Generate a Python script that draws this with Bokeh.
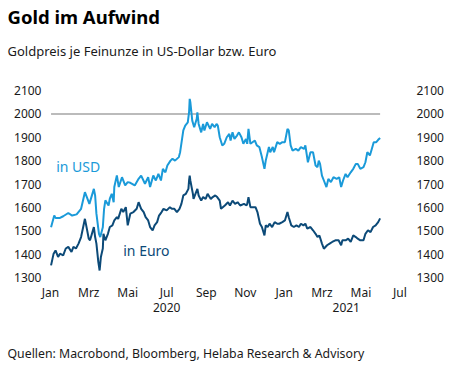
import pandas as pd
from bokeh.plotting import figure
from bokeh.models import (FixedTicker, CustomJSTickFormatter, LinearAxis, Label, Range1d, Title)
from bokeh.embed import file_html
from bokeh.resources import INLINE

# ---------------- data ----------------
usd_dates = [
    "2020-01-02", "2020-01-07", "2020-01-09", "2020-01-16", "2020-01-21", "2020-01-29",
    "2020-02-04", "2020-02-11", "2020-02-18", "2020-02-24", "2020-02-27", "2020-03-02",
    "2020-03-09", "2020-03-11", "2020-03-13", "2020-03-17", "2020-03-19", "2020-03-23",
    "2020-03-25", "2020-03-27", "2020-04-01", "2020-04-03", "2020-04-06", "2020-04-09",
    "2020-04-10", "2020-04-14", "2020-04-17", "2020-04-22", "2020-04-27", "2020-05-01",
    "2020-05-05", "2020-05-12", "2020-05-18", "2020-05-22", "2020-05-28", "2020-06-02",
    "2020-06-05", "2020-06-10", "2020-06-14", "2020-06-18", "2020-06-22", "2020-06-25",
    "2020-06-29", "2020-07-02", "2020-07-07", "2020-07-10", "2020-07-14", "2020-07-20",
    "2020-07-22", "2020-07-27", "2020-07-30", "2020-08-03", "2020-08-05", "2020-08-06",
    "2020-08-07", "2020-08-10", "2020-08-13", "2020-08-17", "2020-08-18", "2020-08-20",
    "2020-08-24", "2020-08-27", "2020-08-29", "2020-09-02", "2020-09-07", "2020-09-10",
    "2020-09-14", "2020-09-17", "2020-09-19", "2020-09-22", "2020-09-26", "2020-09-29",
    "2020-10-03", "2020-10-07", "2020-10-09", "2020-10-12", "2020-10-15", "2020-10-19",
    "2020-10-22", "2020-10-26", "2020-10-29", "2020-11-02", "2020-11-04", "2020-11-06",
    "2020-11-09", "2020-11-16", "2020-11-19", "2020-11-23", "2020-11-27", "2020-12-01",
    "2020-12-03", "2020-12-08", "2020-12-10", "2020-12-14", "2020-12-16", "2020-12-21",
    "2020-12-25", "2020-12-29", "2021-01-02", "2021-01-06", "2021-01-08", "2021-01-11",
    "2021-01-14", "2021-01-19", "2021-01-23", "2021-01-27", "2021-02-01", "2021-02-03",
    "2021-02-07", "2021-02-11", "2021-02-15", "2021-02-19", "2021-02-22", "2021-02-24",
    "2021-02-26", "2021-03-01", "2021-03-04", "2021-03-08", "2021-03-11", "2021-03-15",
    "2021-03-19", "2021-03-24", "2021-03-28", "2021-03-31", "2021-04-03", "2021-04-07",
    "2021-04-10", "2021-04-15", "2021-04-19", "2021-04-23", "2021-04-26", "2021-04-30",
    "2021-05-05", "2021-05-08", "2021-05-11", "2021-05-15", "2021-05-18", "2021-05-21",
    "2021-05-25", "2021-05-28", "2021-05-31",
]
usd_values = [
    1515, 1565, 1555, 1555, 1562, 1576,
    1565, 1570, 1594, 1665, 1644, 1615,
    1679, 1650, 1573, 1487, 1473, 1515,
    1594, 1630, 1608, 1637, 1658, 1622,
    1687, 1737, 1687, 1729, 1694, 1708,
    1705, 1694, 1722, 1736, 1701, 1729,
    1687, 1736, 1715, 1743, 1715, 1765,
    1750, 1779, 1800, 1808, 1800, 1815,
    1836, 1929, 1950, 1964, 2007, 2064,
    2050, 1971, 1943, 1979, 2007, 1957,
    1921, 1957, 1929, 1964, 1936, 1957,
    1943, 1957, 1950, 1900, 1865, 1872,
    1900, 1914, 1886, 1921, 1893, 1907,
    1921, 1900, 1872, 1893, 1872, 1936,
    1872, 1886, 1865, 1858, 1815, 1765,
    1800, 1858, 1836, 1858, 1836, 1879,
    1872, 1879, 1879, 1936, 1929, 1865,
    1843, 1850, 1843, 1858, 1850, 1865,
    1793, 1836, 1836, 1779, 1772, 1800,
    1786, 1736, 1715, 1687, 1722, 1708,
    1729, 1722, 1729, 1687, 1715, 1743,
    1729, 1750, 1765, 1786, 1786, 1765,
    1772, 1793, 1836, 1822, 1850, 1879,
    1879, 1889, 1897,
]

eur_dates = [
    "2020-01-02", "2020-01-06", "2020-01-09", "2020-01-13", "2020-01-16", "2020-01-21",
    "2020-01-25", "2020-01-29", "2020-02-03", "2020-02-06", "2020-02-10", "2020-02-14",
    "2020-02-18", "2020-02-24", "2020-02-27", "2020-03-01", "2020-03-03", "2020-03-06",
    "2020-03-09", "2020-03-11", "2020-03-13", "2020-03-16", "2020-03-18", "2020-03-20",
    "2020-03-23", "2020-03-24", "2020-03-27", "2020-03-31", "2020-04-03", "2020-04-07",
    "2020-04-10", "2020-04-14", "2020-04-16", "2020-04-21", "2020-04-24", "2020-04-28",
    "2020-05-01", "2020-05-05", "2020-05-10", "2020-05-15", "2020-05-18", "2020-05-22",
    "2020-05-26", "2020-05-29", "2020-06-02", "2020-06-05", "2020-06-09", "2020-06-12",
    "2020-06-16", "2020-06-19", "2020-06-23", "2020-06-26", "2020-07-01", "2020-07-06",
    "2020-07-09", "2020-07-13", "2020-07-17", "2020-07-21", "2020-07-24", "2020-07-27",
    "2020-07-31", "2020-08-04", "2020-08-05", "2020-08-06", "2020-08-07", "2020-08-11",
    "2020-08-12", "2020-08-18", "2020-08-20", "2020-08-24", "2020-08-27", "2020-08-31",
    "2020-09-03", "2020-09-08", "2020-09-11", "2020-09-15", "2020-09-18", "2020-09-22",
    "2020-09-24", "2020-09-30", "2020-10-05", "2020-10-08", "2020-10-12", "2020-10-16",
    "2020-10-20", "2020-10-24", "2020-10-30", "2020-11-03", "2020-11-04", "2020-11-06",
    "2020-11-09", "2020-11-17", "2020-11-20", "2020-11-24", "2020-11-27", "2020-12-01",
    "2020-12-03", "2020-12-06", "2020-12-09", "2020-12-13", "2020-12-17", "2020-12-21",
    "2020-12-24", "2020-12-29", "2021-01-02", "2021-01-06", "2021-01-08", "2021-01-12",
    "2021-01-16", "2021-01-20", "2021-01-24", "2021-01-27", "2021-01-31", "2021-02-03",
    "2021-02-06", "2021-02-11", "2021-02-15", "2021-02-19", "2021-02-22", "2021-02-25",
    "2021-03-01", "2021-03-04", "2021-03-09", "2021-03-13", "2021-03-17", "2021-03-22",
    "2021-03-27", "2021-03-31", "2021-04-02", "2021-04-07", "2021-04-11", "2021-04-15",
    "2021-04-19", "2021-04-23", "2021-04-26", "2021-04-30", "2021-05-05", "2021-05-08",
    "2021-05-12", "2021-05-16", "2021-05-20", "2021-05-24", "2021-05-28", "2021-05-31",
]
eur_values = [
    1352, 1402, 1416, 1388, 1402, 1395,
    1424, 1431, 1409, 1431, 1424, 1445,
    1473, 1551, 1509, 1466, 1459, 1487,
    1516, 1473, 1445, 1366, 1330, 1388,
    1424, 1487, 1459, 1487, 1516, 1523,
    1544, 1558, 1551, 1594, 1580, 1601,
    1523, 1573, 1580, 1594, 1622, 1594,
    1580, 1558, 1544, 1516, 1502, 1523,
    1537, 1565, 1580, 1594, 1587, 1601,
    1594, 1594, 1580, 1594, 1615, 1651,
    1658, 1679, 1715, 1736, 1715, 1658,
    1636, 1679, 1651, 1629, 1644, 1636,
    1658, 1636, 1644, 1651, 1644, 1629,
    1594, 1608, 1622, 1608, 1629, 1615,
    1622, 1608, 1615, 1608, 1615, 1644,
    1601, 1601, 1580, 1530, 1516, 1480,
    1523, 1516, 1530, 1516, 1537, 1530,
    1530, 1537, 1544, 1580, 1558, 1523,
    1516, 1523, 1516, 1530, 1523, 1530,
    1509, 1516, 1502, 1487, 1473, 1480,
    1445, 1423, 1438, 1445, 1452, 1459,
    1459, 1438, 1459, 1459, 1466, 1452,
    1480, 1473, 1466, 1459, 1459, 1487,
    1502, 1494, 1516, 1523, 1537, 1553,
]

y_ticks = [1300, 1400, 1500, 1600, 1700, 1800, 1900, 2000, 2100]
month_ticks = ["2020-01-01", "2020-03-01", "2020-05-01", "2020-07-01", "2020-09-01",
               "2020-11-01", "2021-01-01", "2021-03-01", "2021-05-01", "2021-07-01"]
month_names = ["Jan", "Feb", "Mrz", "Apr", "Mai", "Jun", "Jul", "Aug", "Sep", "Okt", "Nov", "Dez"]
year_label_dates = ["2020-07-01", "2021-04-08"]
reference_level = 2000

title_text = "Gold im Aufwind"
subtitle_text = "Goldpreis je Feinunze in US-Dollar bzw. Euro"
source_text = "Quellen: Macrobond, Bloomberg, Helaba Research & Advisory"

# --------------- styling ---------------
USD_COLOR = "#1a9ad9"
EUR_COLOR = "#0c4a78"
FONT = "Noto Sans"
TEXT = "#1a1a1a"


def ms(d):
    return pd.Timestamp(d).value / 1e6


usd_x = pd.to_datetime(usd_dates)
eur_x = pd.to_datetime(eur_dates)

# frame: left 48, right 409, top 90, bottom 277 (page pixels)
p = figure(width=454, height=366, output_backend="svg", toolbar_location=None,
           x_axis_type="datetime",
           x_range=Range1d(pd.Timestamp("2019-12-29"), pd.Timestamp("2021-07-16")),
           y_range=Range1d(1300, 2100),
           min_border_left=48, min_border_right=45, min_border_top=90, min_border_bottom=89,
           title=None)
p.outline_line_color = None
p.xgrid.visible = False
p.ygrid.visible = False
p.background_fill_color = "white"
p.border_fill_color = "white"


def style_axis(ax):
    ax.axis_line_color = None
    ax.major_tick_line_color = None
    ax.minor_tick_line_color = None
    ax.major_tick_out = 0
    ax.major_tick_in = 0
    ax.minor_tick_out = 0
    ax.minor_tick_in = 0
    ax.major_label_text_font = FONT
    ax.major_label_text_font_size = "12px"
    ax.major_label_text_color = TEXT


# y axes
ly = p.yaxis[0]
ly.ticker = FixedTicker(ticks=y_ticks)
style_axis(ly)
ly.major_label_standoff = 7
ry = LinearAxis(ticker=FixedTicker(ticks=y_ticks))
style_axis(ry)
ry.major_label_standoff = 7
p.add_layout(ry, "right")

# x axes
bx = p.xaxis[0]
bx.ticker = FixedTicker(ticks=[ms(d) for d in month_ticks])
bx.formatter = CustomJSTickFormatter(args=dict(names=month_names),
                                     code="return names[new Date(tick).getUTCMonth()];")
style_axis(bx)
bx.major_label_standoff = 6

yx = LinearAxis(ticker=FixedTicker(ticks=[ms(d) for d in year_label_dates]),
                formatter=CustomJSTickFormatter(code="return String(new Date(tick).getUTCFullYear());"))
style_axis(yx)
yx.major_label_standoff = -1
p.add_layout(yx, "below")


def spacer(size):
    return Title(text=" ", text_font_size="1px", standoff=size, text_color="white")


# above: spacer (nearest to frame), subtitle, title
p.add_layout(spacer(16.5), "above")
p.add_layout(Title(text=subtitle_text, text_font=FONT, text_font_size="13px",
                   text_font_style="normal", text_color=TEXT, offset=-41,
                   standoff=20, vertical_align="middle"), "above")
p.add_layout(Title(text=title_text, text_font=FONT, text_font_size="18.5px",
                   text_font_style="bold", text_color="black", offset=-41,
                   standoff=2, vertical_align="middle"), "above")
# below: month axis, year axis, spacer, source
p.add_layout(spacer(25), "below")
p.add_layout(Title(text=source_text, text_font=FONT, text_font_size="12.3px",
                   text_font_style="normal", text_color=TEXT, offset=-41,
                   standoff=2, vertical_align="middle"), "below")

# reference line at 2000 over the data span
p.line(x=[usd_x[0], usd_x[-1]], y=[reference_level, reference_level],
       line_color="#bbbbbb", line_width=2)

p.line(x=usd_x, y=usd_values, line_color=USD_COLOR, line_width=2)
p.line(x=eur_x, y=eur_values, line_color=EUR_COLOR, line_width=2)

p.add_layout(Label(x=pd.Timestamp("2020-01-10"), y=1736, text="in USD",
                   text_font=FONT, text_font_size="14px", text_color=USD_COLOR))
p.add_layout(Label(x=pd.Timestamp("2020-04-24"), y=1373, text="in Euro",
                   text_font=FONT, text_font_size="14px", text_color=EUR_COLOR))

open("out.html", "w").write(file_html(p, INLINE))
